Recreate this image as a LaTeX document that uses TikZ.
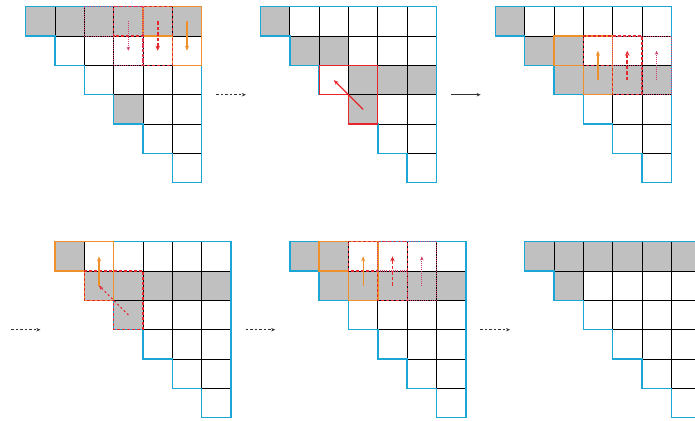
\documentclass[tikz,border=0pt]{standalone}
\usepackage{xcolor}
\usepackage{tikz}
\usetikzlibrary{calc,arrows.meta}
\definecolor{rimc}{HTML}{1CA6D6}
\definecolor{cellg}{HTML}{C0C0C0}
\definecolor{orc}{HTML}{F0902A}
\definecolor{redc}{HTML}{E5262A}
\definecolor{dotc}{HTML}{D04068}
\definecolor{arc}{HTML}{333333}
\tikzset{
  cell/.style={draw=black,line width=0.8pt},
  rim/.style={draw=rimc,line width=1.4pt},
  orb/.style={draw=orc,line width=1.4pt},
  rdb/.style={draw=redc,line width=1.2pt,dash pattern=on 3pt off 2pt},
  dtb/.style={draw=dotc,line width=1.1pt,dash pattern=on 1pt off 1.2pt},
  rsb/.style={draw=redc,line width=1.3pt},
  ar/.style={-{Stealth[length=4pt,width=3.5pt]},line width=0.8pt,arc},
  oar/.style={-{Stealth[length=5pt,width=4pt]},line width=1.2pt,orc},
  rar/.style={-{Stealth[length=5pt,width=4.5pt]},line width=1.8pt,redc,dash pattern=on 3.5pt off 2pt},
  par/.style={-{Stealth[length=4pt,width=3.5pt]},line width=0.8pt,dotc,dash pattern=on 1pt off 1pt},
  sar/.style={-{Stealth[length=5pt,width=4pt]},line width=1.2pt,redc}
}
\newcommand{\stair}[4]{\begin{scope}[shift={(#2,#3)}]
  \coordinate (#1) at (0,0); \coordinate (#1-in) at (-0.5,3); \coordinate (#1-out) at (6.5,3);
  \foreach \r/\c in {#4}{\fill[cellg] (\c,\r) rectangle ++(1,1);}
  \foreach \r in {0,...,5}{\foreach \c in {\r,...,5}{\draw[cell] (\c,\r) rectangle ++(1,1);}}
  \draw[rim] (0,0)--(6,0)--(6,6)--(5,6)--(5,5)--(4,5)--(4,4)--(3,4)--(3,3)--(2,3)--(2,2)--(1,2)--(1,1)--(0,1)--cycle;
\end{scope}}
\newcommand{\blk}[3]{\draw[#1] (#2,#3)--++(2,0)--++(0,2)--++(-1,0)--++(0,-1)--++(-1,0)--cycle;}

\begin{document}
\begin{tikzpicture}[x=29.333pt,y=-29.333pt]
\clip (0,0) rectangle (23.693,14.352);
\stair{g1}{0.876}{0.23}{0/0,0/1,0/2,0/3,0/4,0/5,3/3}
\stair{g2}{8.88}{0.23}{0/0,1/1,1/2,2/3,2/4,2/5,3/3}
\stair{g3}{16.884}{0.23}{0/0,1/1,1/2,2/2,2/3,2/4,2/5}
\stair{g4}{1.876}{8.24}{0/0,1/1,1/2,1/3,1/4,1/5,2/2}
\stair{g5}{9.88}{8.24}{0/0,0/1,1/1,1/2,1/3,1/4,1/5}
\stair{g6}{17.884}{8.24}{0/0,0/1,0/2,0/3,0/4,0/5,1/1}
% swaps down the top row
\begin{scope}[shift={(g1)}]
\blk{orb}{4}{0} \blk{rdb}{3}{0} \blk{dtb}{2}{0}
\draw[oar] (5.5,0.5)--(5.5,1.5); \draw[rar] (4.5,0.5)--(4.5,1.5); \draw[par] (3.5,0.5)--(3.5,1.5);
\end{scope}
\begin{scope}[shift={(g2)}]
\blk{rsb}{2}{2}
\draw[sar] (3.5,3.5)--(2.5,2.5);
\end{scope}
\begin{scope}[shift={(g3)}]
\blk{orb}{2}{1} \blk{rdb}{3}{1} \blk{dtb}{4}{1}
\draw[oar] (3.5,2.5)--(3.5,1.5); \draw[rar] (4.5,2.5)--(4.5,1.5); \draw[par] (5.5,2.5)--(5.5,1.5);
\end{scope}
\begin{scope}[shift={(g4)}]
\blk{orb}{0}{0} \blk{rdb}{1}{1}
\draw[oar] (1.5,1.5)--(1.5,0.5);
\draw[-{Stealth[length=4pt,width=3.5pt]},line width=1.1pt,redc,dash pattern=on 2pt off 2.5pt] (2.5,2.5)--(1.5,1.5);
\end{scope}
\begin{scope}[shift={(g5)}]
\blk{orb}{1}{0} \blk{rdb}{2}{0} \blk{dtb}{3}{0}
\draw[oar] (2.5,1.5)--(2.5,0.5); \draw[rar] (3.5,1.5)--(3.5,0.5); \draw[par] (4.5,1.5)--(4.5,0.5);
\end{scope}
% steps between the grids
\coordinate (s4) at ($(g4)+(-1.5,3)$);
\draw[ar,dash pattern=on 2.5pt off 2pt] (g1-out)--(g2-in);
\draw[ar] (g2-out)--(g3-in);
\draw[ar,dash pattern=on 2.5pt off 2pt] (s4)--(g4-in);
\draw[ar,dash pattern=on 2.5pt off 2pt] (g4-out)--(g5-in);
\draw[ar,dash pattern=on 2.5pt off 2pt] (g5-out)--(g6-in);
\end{tikzpicture}
\end{document}
